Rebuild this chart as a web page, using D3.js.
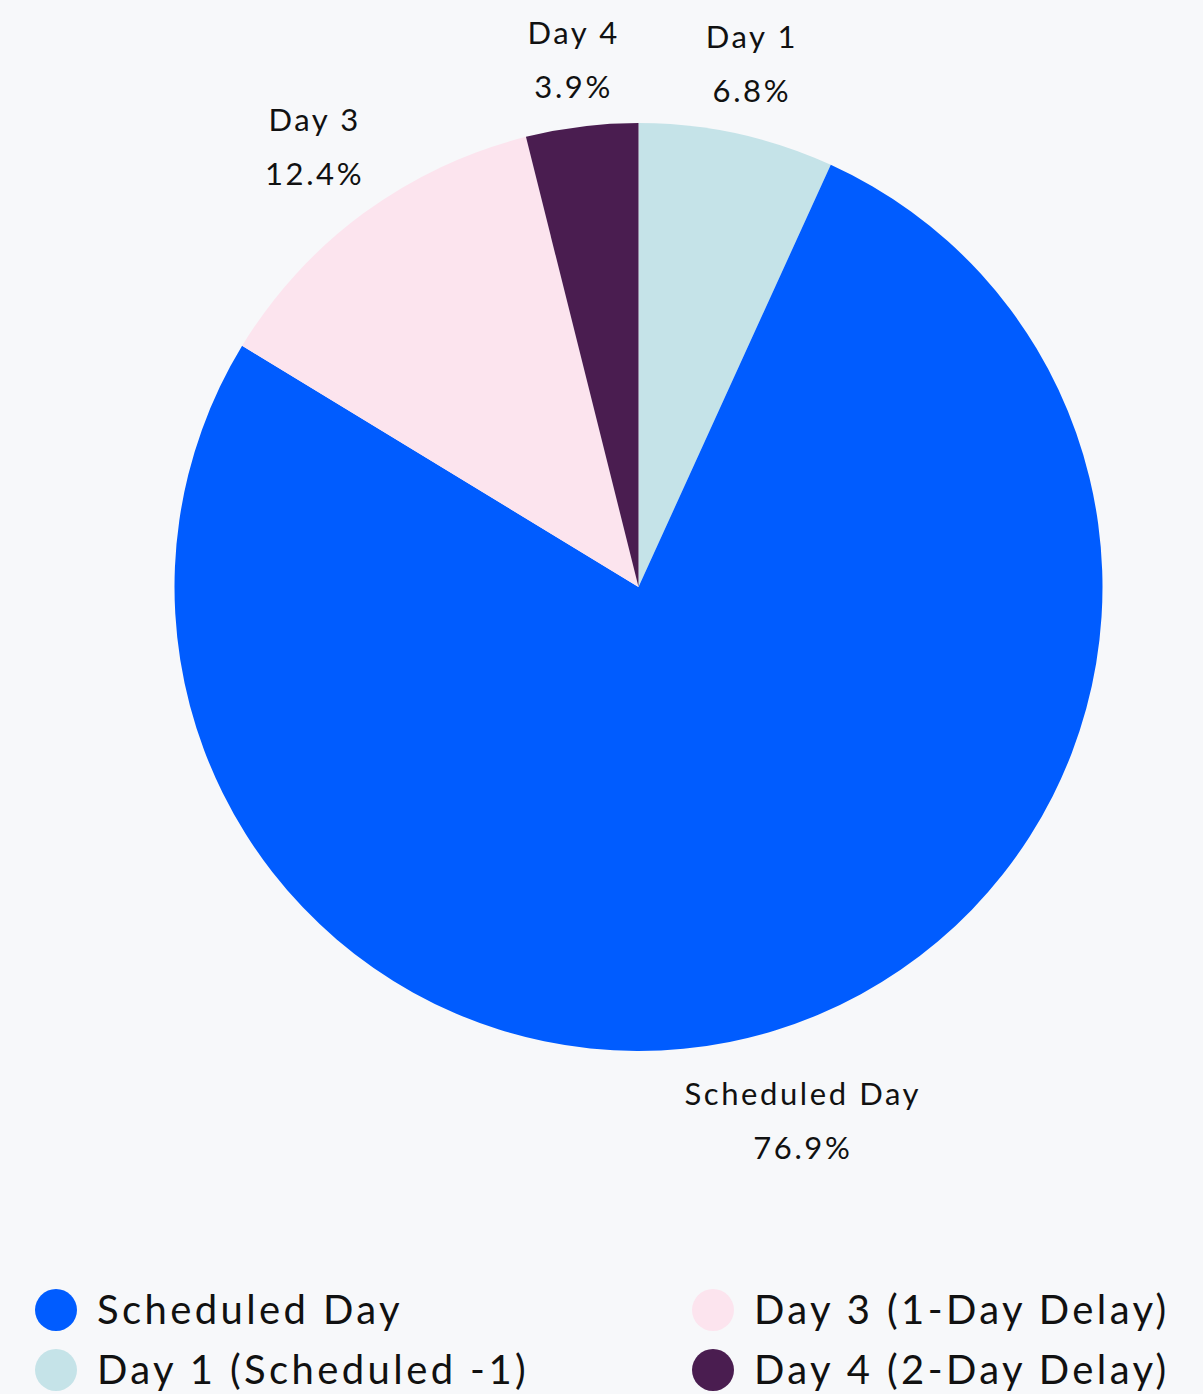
<!DOCTYPE html>
<html>
<head>
<meta charset="utf-8">
<script src="https://cdn.jsdelivr.net/npm/d3@7"></script>
<style>
  html, body { margin: 0; padding: 0; background: #f7f8fa; }
  svg { display: block; font-family: "Lato", "Noto Sans", sans-serif; }
</style>
</head>
<body>
<svg id="chart" width="1203" height="1394"></svg>
<script>
// slices, clockwise from 12 o'clock
const categories = ["Day 1", "Scheduled Day", "Day 3", "Day 4"];
const shares = [6.8, 76.9, 12.4, 3.9];
const colors = ["#c5e3e8", "#005cff", "#fce4ee", "#4a1d50"];

// legend entries (two columns)
const legendNames = ["Scheduled Day", "Day 1 (Scheduled -1)", "Day 3 (1-Day Delay)", "Day 4 (2-Day Delay)"];
const legendColors = ["#005cff", "#c5e3e8", "#fce4ee", "#4a1d50"];

var svg = d3.select("#chart"),
    width = +svg.attr("width"),
    cx = 638.5, cy = 587, radius = 464;

svg.append("rect").attr("width", width).attr("height", 1394).attr("fill", "#f7f8fa");

var data = categories.map((c, i) => ({ name: c, value: shares[i], color: colors[i] }));

var pie = d3.pie().sort(null).value(d => d.value);
var arc = d3.arc().innerRadius(0).outerRadius(radius);

var g = svg.append("g").attr("transform", `translate(${cx},${cy})`);

var arcs = pie(data);

g.selectAll("path.slice")
    .data(arcs)
    .enter().append("path")
    .attr("class", "slice")
    .attr("d", arc)
    .attr("fill", d => d.data.color);

// outside labels: box edge sits a fixed gap away from the rim
var gap = 16, lineGap = 54, labelSize = 31;
var labels = g.selectAll("g.lbl")
    .data(arcs)
    .enter().append("g")
    .attr("class", "lbl");

labels.append("text")
    .attr("text-anchor", "middle")
    .attr("font-size", labelSize)
    .attr("letter-spacing", "2.6px")
    .attr("fill", "#111")
    .attr("y", -lineGap / 2)
    .attr("dy", "0.35em")
    .text(d => d.data.name);

labels.append("text")
    .attr("text-anchor", "middle")
    .attr("font-size", labelSize)
    .attr("letter-spacing", "2.6px")
    .attr("fill", "#111")
    .attr("y", lineGap / 2)
    .attr("dy", "0.35em")
    .text(d => d.data.value.toFixed(1) + "%");

labels.attr("transform", function (d) {
    var a = (d.startAngle + d.endAngle) / 2;
    var bb = this.getBBox();
    var hw = bb.width / 2, hh = bb.height / 2;
    var s = Math.sin(a), c = -Math.cos(a);
    var dist = radius + gap + hw * Math.abs(s) + hh * Math.abs(c);
    return `translate(${s * dist},${c * dist})`;
});

// legend
var legendSize = 40;
var legend = svg.selectAll(".legend")
    .data(legendNames)
    .enter().append("g")
    .attr("class", "legend")
    .attr("transform", (d, i) => {
        var col = Math.floor(i / 2), row = i % 2;
        return `translate(${col === 0 ? 56 : 713},${1310 + row * 60})`;
    });

legend.append("circle")
    .attr("r", 21)
    .attr("fill", (d, i) => legendColors[i]);

legend.append("text")
    .attr("x", 41)
    .attr("dy", "0.35em")
    .attr("font-size", legendSize)
    .attr("letter-spacing", "3.4px")
    .attr("fill", "#111")
    .text(d => d);
</script>
</body>
</html>
